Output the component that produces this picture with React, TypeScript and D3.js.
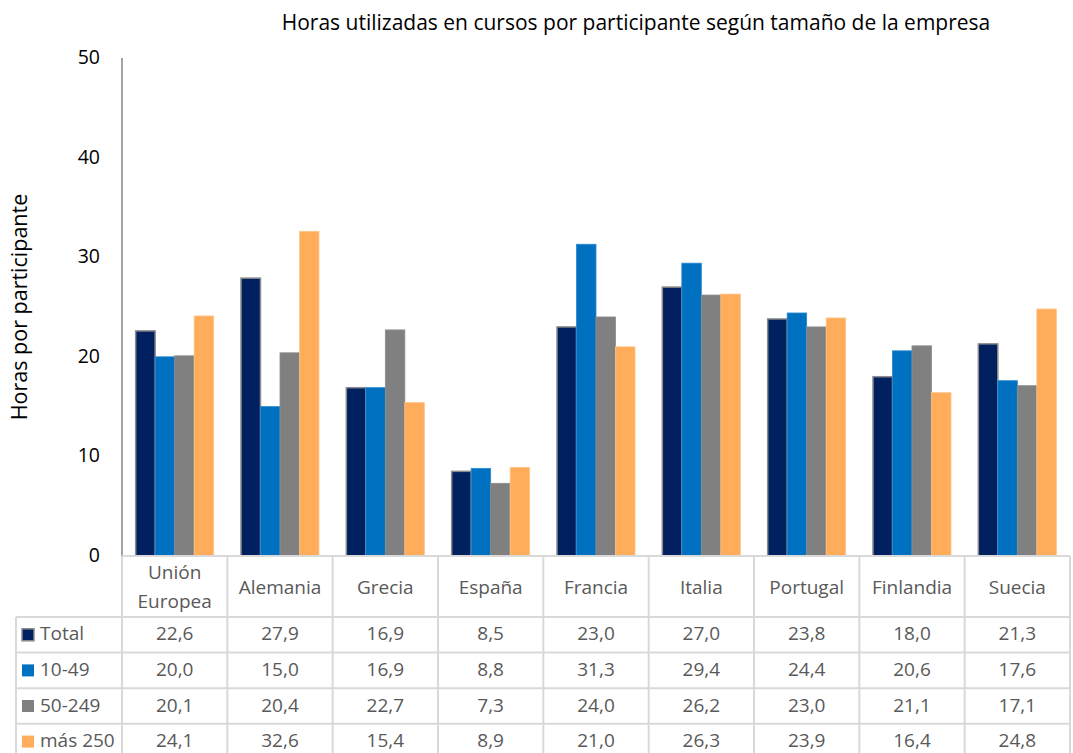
import * as d3 from "d3";

const categories = ["Unión Europea", "Alemania", "Grecia", "España", "Francia", "Italia", "Portugal", "Finlandia", "Suecia"];
const seriesNames = ["Total", "10-49", "50-249", "más 250"];
const total = [22.6, 27.9, 16.9, 8.5, 23.0, 27.0, 23.8, 18.0, 21.3];
const small = [20.0, 15.0, 16.9, 8.8, 31.3, 29.4, 24.4, 20.6, 17.6];
const medium = [20.1, 20.4, 22.7, 7.3, 24.0, 26.2, 23.0, 21.1, 17.1];
const large = [24.1, 32.6, 15.4, 8.9, 21.0, 26.3, 23.9, 16.4, 24.8];
const yTicks = [0, 10, 20, 30, 40, 50];

const series = [total, small, medium, large];
const colors = ["#002060", "#0070C0", "#808080", "#FFAD5B"];
const strokes = ["#8c8c8c", "#2b8ad0", "#8c8c8c", "#ffc58a"];

const W = 1073;
const H = 753;
const plotLeft = 122;
const plotRight = 1070;
const yTop = 58;
const yBottom = 556;
const headerH = 61;
const rowH = 35.6;
const legendLeft = 16;
const font = "Open Sans, sans-serif";
const gridColor = "#d9d9d9";
const textColor = "#595959";
const tableFont = 19;

const fmt = (v: number) => v.toFixed(1).replace(".", ",");

export default function App() {
  const x = d3.scaleBand<string>().domain(categories).range([plotLeft, plotRight]);
  const y = d3.scaleLinear().domain([0, 50]).range([yBottom, yTop]);
  const inner = d3
    .scaleBand<number>()
    .domain(d3.range(series.length))
    .range([0, x.bandwidth()])
    .paddingOuter(0.7)
    .paddingInner(0);

  const tableTop = yBottom;
  const rowsTop = tableTop + headerH;

  return (
    <svg width={W} height={H} style={{ display: "block", position: "absolute", left: 0, top: 0 }} fontFamily={font}>
      <rect width={W} height={H} fill="#fff" />
      <text x={636} y={30} textAnchor="middle" fontSize={21} fill="#000">
        Horas utilizadas en cursos por participante según tamaño de la empresa
      </text>
      <text transform={`translate(27,307) rotate(-90)`} textAnchor="middle" fontSize={21.5} fill="#000">
        Horas por participante
      </text>

      {yTicks.map((t) => (
        <text key={t} x={100} y={y(t) + 6} textAnchor="end" fontSize={19.5} fill="#000">
          {t}
        </text>
      ))}

      {series.map((vals, si) => (
        <g key={si}>
          {categories.map((c, ci) => {
            const bx = (x(c) ?? 0) + (inner(si) ?? 0);
            const by = y(vals[ci]);
            return (
              <rect
                key={c}
                x={bx}
                y={by}
                width={inner.bandwidth()}
                height={yBottom - by}
                fill={colors[si]}
                stroke={strokes[si]}
                strokeWidth={si === 0 ? 1.5 : 0.8}
              />
            );
          })}
        </g>
      ))}

      <line x1={plotLeft} x2={plotLeft} y1={yTop} y2={yBottom} stroke="#868686" strokeWidth={1.5} />

      {/* data table grid */}
      <g stroke={gridColor} strokeWidth={2}>
        <line x1={plotLeft} x2={plotRight} y1={tableTop} y2={tableTop} />
        {seriesNames.map((_, i) => (
          <line key={i} x1={legendLeft} x2={plotRight} y1={rowsTop + i * rowH} y2={rowsTop + i * rowH} />
        ))}
        <line x1={legendLeft} x2={legendLeft} y1={rowsTop} y2={H} />
        {categories.map((c) => (
          <line key={c} x1={x(c)} x2={x(c)} y1={tableTop} y2={H} />
        ))}
        <line x1={plotRight} x2={plotRight} y1={tableTop} y2={H} />
      </g>

      {categories.map((c) => {
        const cx = (x(c) ?? 0) + x.bandwidth() / 2;
        const parts = c === "Unión Europea" ? ["Unión", "Europea"] : [c];
        return (
          <text key={c} x={cx} textAnchor="middle" fontSize={tableFont} fill={textColor}>
            {parts.map((p, i) => (
              <tspan key={p} x={cx} y={tableTop + headerH / 2 + 7 + (i - (parts.length - 1) / 2) * 29}>
                {p}
              </tspan>
            ))}
          </text>
        );
      })}

      {seriesNames.map((name, si) => {
        const cy = rowsTop + si * rowH + rowH / 2;
        return (
          <g key={name}>
            <rect
              x={22}
              y={cy - 6}
              width={12}
              height={12}
              fill={colors[si]}
              stroke={si === 0 ? "#8c8c8c" : "none"}
              strokeWidth={1.5}
            />
            <text x={40} y={cy + 5.5} fontSize={tableFont} fill={textColor}>
              {name}
            </text>
            {categories.map((c, ci) => (
              <text key={c} x={(x(c) ?? 0) + x.bandwidth() / 2} y={cy + 5.5} textAnchor="middle" fontSize={tableFont} fill={textColor}>
                {fmt(series[si][ci])}
              </text>
            ))}
          </g>
        );
      })}
    </svg>
  );
}
